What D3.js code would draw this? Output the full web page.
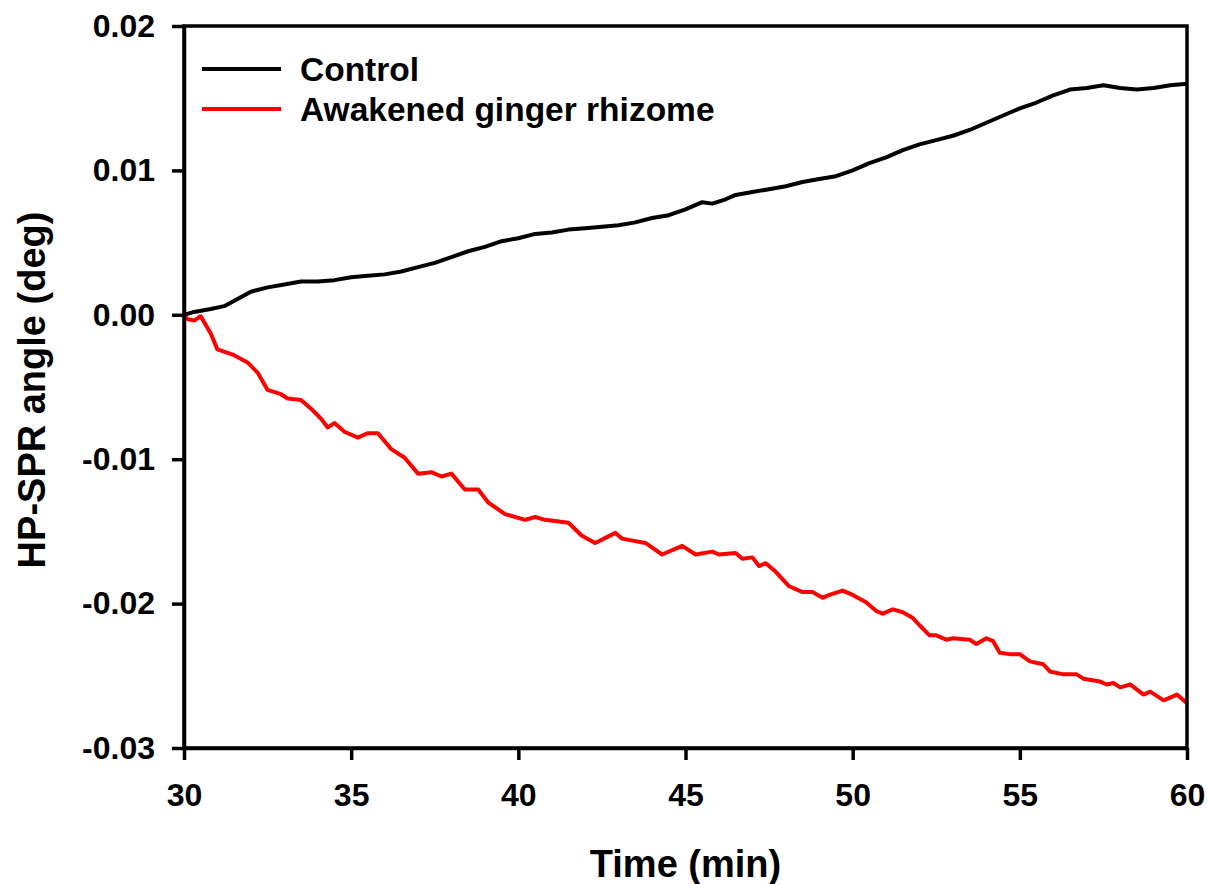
<!DOCTYPE html>
<html>
<head>
<meta charset="utf-8">
<script src="https://cdn.jsdelivr.net/npm/d3@7"></script>
<style>
  body { margin: 0; background: #fff; }
  svg text { font-family: "Liberation Sans", Arial, sans-serif; font-weight: bold; }
</style>
</head>
<body>
<svg id="chart" width="1207" height="884"></svg>
<script>
// values
const controlTime = [30.0, 30.3, 30.8, 31.2, 31.6, 32.0, 32.5, 33.0, 33.5, 34.0, 34.5, 35.0, 35.5, 36.0, 36.5, 37.0, 37.5, 38.0, 38.5, 39.0, 39.5, 40.0, 40.5, 41.0, 41.5, 42.0, 42.5, 43.0, 43.5, 44.0, 44.5, 45.0, 45.5, 45.8, 46.2, 46.5, 47.0, 47.5, 48.0, 48.5, 49.0, 49.5, 50.0, 50.5, 51.0, 51.5, 52.0, 52.5, 53.0, 53.5, 54.0, 54.5, 55.0, 55.5, 56.0, 56.5, 57.0, 57.5, 58.0, 58.5, 59.0, 59.5, 60.0];
const controlAngle = [0.0000, 0.0002, 0.0004, 0.0006, 0.0011, 0.0016, 0.0019, 0.0021, 0.0023, 0.0023, 0.0024, 0.0026, 0.0027, 0.0028, 0.0030, 0.0033, 0.0036, 0.0040, 0.0044, 0.0047, 0.0051, 0.0053, 0.0056, 0.0057, 0.0059, 0.0060, 0.0061, 0.0062, 0.0064, 0.0067, 0.0069, 0.0073, 0.0078, 0.0077, 0.0080, 0.0083, 0.0085, 0.0087, 0.0089, 0.0092, 0.0094, 0.0096, 0.0100, 0.0105, 0.0109, 0.0114, 0.0118, 0.0121, 0.0124, 0.0128, 0.0133, 0.0138, 0.0143, 0.0147, 0.0152, 0.0156, 0.0157, 0.0159, 0.0157, 0.0156, 0.0157, 0.0159, 0.0160];

const gingerTime = [30.0, 30.1, 30.3, 30.5, 30.8, 31.0, 31.5, 31.9, 32.2, 32.5, 32.9, 33.1, 33.5, 33.8, 34.1, 34.3, 34.5, 34.8, 35.2, 35.5, 35.8, 36.2, 36.6, 37.0, 37.4, 37.7, 38.0, 38.4, 38.8, 39.1, 39.6, 40.2, 40.5, 40.8, 41.5, 41.9, 42.3, 42.9, 43.1, 43.8, 44.3, 44.9, 45.3, 45.8, 46.0, 46.5, 46.7, 47.0, 47.2, 47.4, 47.7, 48.1, 48.5, 48.8, 49.1, 49.3, 49.7, 50.0, 50.4, 50.7, 50.9, 51.2, 51.5, 51.8, 52.0, 52.3, 52.5, 52.8, 53.0, 53.5, 53.7, 54.0, 54.2, 54.4, 54.7, 55.0, 55.3, 55.7, 55.9, 56.3, 56.7, 56.9, 57.4, 57.6, 57.8, 58.0, 58.3, 58.7, 58.9, 59.3, 59.7, 60.0];
const gingerAngle = [0.0000, -0.0003, -0.0004, -0.0001, -0.0013, -0.0024, -0.0028, -0.0033, -0.0040, -0.0052, -0.0055, -0.0058, -0.0059, -0.0065, -0.0072, -0.0078, -0.0075, -0.0081, -0.0085, -0.0082, -0.0082, -0.0093, -0.0099, -0.0110, -0.0109, -0.0112, -0.0110, -0.0121, -0.0121, -0.0130, -0.0138, -0.0142, -0.0140, -0.0142, -0.0144, -0.0153, -0.0158, -0.0151, -0.0155, -0.0158, -0.0166, -0.0160, -0.0166, -0.0164, -0.0166, -0.0165, -0.0169, -0.0168, -0.0174, -0.0172, -0.0178, -0.0188, -0.0192, -0.0192, -0.0196, -0.0194, -0.0191, -0.0194, -0.0199, -0.0205, -0.0207, -0.0204, -0.0206, -0.0210, -0.0215, -0.0222, -0.0222, -0.0225, -0.0224, -0.0225, -0.0228, -0.0224, -0.0226, -0.0234, -0.0235, -0.0235, -0.0240, -0.0242, -0.0247, -0.0249, -0.0249, -0.0252, -0.0254, -0.0256, -0.0255, -0.0258, -0.0256, -0.0263, -0.0261, -0.0267, -0.0263, -0.0269];

const xTicks = [30, 35, 40, 45, 50, 55, 60];
const yTicks = [0.02, 0.01, 0.00, -0.01, -0.02, -0.03];
const seriesNames = ["Control", "Awakened ginger rhizome"];
const seriesColors = ["#000000", "#ff0000"];

const svg = d3.select("#chart");
const plotLeft = 184, plotRight = 1187, plotTop = 26, plotBottom = 748;

const x = d3.scaleLinear().domain([30, 60]).range([plotLeft, plotRight]);
const y = d3.scaleLinear().domain([-0.03, 0.02]).range([plotBottom, plotTop]);

const series = [
  controlTime.map((t, i) => [t, controlAngle[i]]),
  gingerTime.map((t, i) => [t, gingerAngle[i]])
];

const line = d3.line().x(d => x(d[0])).y(d => y(d[1]));

// lines
svg.append("g").selectAll("path")
  .data(series)
  .join("path")
    .attr("d", line)
    .attr("fill", "none")
    .attr("stroke", (d, i) => seriesColors[i])
    .attr("stroke-width", 4)
    .attr("stroke-linejoin", "round");

// frame
svg.append("rect")
  .attr("x", plotLeft).attr("y", plotTop)
  .attr("width", plotRight - plotLeft).attr("height", plotBottom - plotTop)
  .attr("fill", "none").attr("stroke", "#000").attr("stroke-width", 3.5);

function styleAxis(g) {
  g.select(".domain").attr("stroke-width", 3.5);
  g.selectAll(".tick line").attr("stroke-width", 3.5);
  g.selectAll(".tick text").attr("font-size", 32).attr("fill", "#000");
}

const fmt = v => d3.format(".2f")(v).replace("−", "-");

svg.append("g")
  .attr("transform", `translate(0,${plotBottom})`)
  .call(d3.axisBottom(x).tickValues(xTicks).tickSize(12).tickPadding(23).tickSizeOuter(0))
  .call(styleAxis);

svg.append("g")
  .attr("transform", `translate(${plotLeft},0)`)
  .call(d3.axisLeft(y).tickValues(yTicks).tickFormat(fmt).tickSize(12).tickPadding(17).tickSizeOuter(0))
  .call(styleAxis);

// axis titles
svg.append("text")
  .attr("x", (plotLeft + plotRight) / 2).attr("y", 877)
  .attr("text-anchor", "middle").attr("font-size", 38)
  .text("Time (min)");

svg.append("text")
  .attr("transform", `translate(45,${(plotTop + plotBottom) / 2 + 3}) rotate(-90)`)
  .attr("text-anchor", "middle").attr("font-size", 38)
  .text("HP-SPR angle (deg)");

// legend
const legend = svg.append("g").selectAll("g")
  .data(seriesNames)
  .join("g")
    .attr("transform", (d, i) => `translate(202,${69 + i * 40})`);

legend.append("line")
  .attr("x1", 0).attr("x2", 79)
  .attr("stroke", (d, i) => seriesColors[i])
  .attr("stroke-width", 4);

legend.append("text")
  .attr("x", 98).attr("y", 12)
  .attr("font-size", 33.5)
  .text(d => d);
</script>
</body>
</html>
